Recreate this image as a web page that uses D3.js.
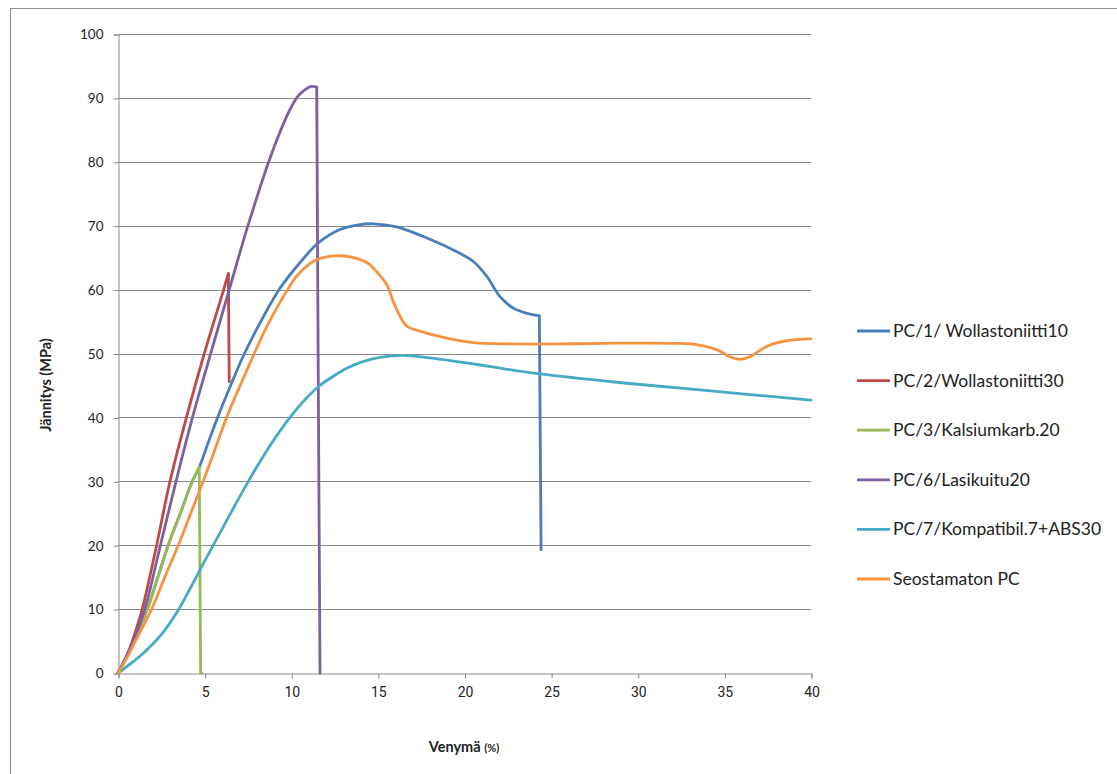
<!DOCTYPE html>
<html>
<head>
<meta charset="utf-8">
<script src="https://cdn.jsdelivr.net/npm/d3@7"></script>
<style>
  html, body { margin: 0; padding: 0; background: #fff; }
  svg { display: block; }
  text { font-family: Lato, "Liberation Sans", sans-serif; fill: #222; }
</style>
</head>
<body>
<svg id="chart" width="1117" height="774"></svg>
<script>
// Tensile test curves: strain (%) vs stress (MPa)
const seriesNames = [
  "PC/1/ Wollastoniitti10",
  "PC/2/Wollastoniitti30",
  "PC/3/Kalsiumkarb.20",
  "PC/6/Lasikuitu20",
  "PC/7/Kompatibil.7+ABS30",
  "Seostamaton PC"
];
const seriesColors = ["#4A7EBB", "#BE4B48", "#98B954", "#7D60A0", "#46AAC5", "#F69240"];

// Each specimen: smooth loading part [strain %, stress MPa] and the fracture drop after it
const pc1 = [[0,0],[0.5,2.6],[1.0,5.6],[1.69,10],[2.3,15],[2.9,20],[3.6,25],[4.29,30],[4.69,32.2],
  [5.2,36],[5.75,40],[6.5,45],[7.3,50],[8.4,55.8],[9.35,60.2],[10.5,64.2],[11.56,67.3],
  [12.81,69.4],[13.8,70.1],[14.74,70.3],[16.09,69.8],[17.62,68.3],[19.35,66.2],[20.51,64.4],[21.28,62.1],
  [22.05,58.9],[22.82,57.1],[23.59,56.3],[24.32,55.9]];
const pc1Drop = [[24.32,55.9],[24.42,19.3]];

const pc2 = [[0,0],[0.5,2.6],[0.95,6],[1.4,10],[2.23,20],[3.0,30],[3.95,40],[4.98,50],
  [6.1,60],[6.37,62.5]];
const pc2Drop = [[6.37,62.5],[6.42,45.6]];

const pc3 = [[0,0],[0.5,2.6],[1.0,5.6],[1.69,10],[2.3,15],[2.9,20],[3.6,25],[4.29,30],[4.69,32.2]];
const pc3Drop = [[4.69,32.2],[4.77,0],[4.85,0]];

const pc6 = [[0,0],[0.5,2.7],[1.0,5.8],[1.55,10],[2.45,20],[3.35,30],[4.3,40],[5.35,50],
  [6.42,60],[7.5,70],[8.7,80],[9.4,85],[9.95,88.3],[10.4,90.3],[10.8,91.3],[11.15,91.8],[11.47,91.7]];
const pc6Drop = [[11.47,91.7],[11.53,60],[11.66,0]];

const pc7 = [[0,0],[0.6,1.2],[1.46,3.1],[2.5,6.0],[3.4,9.5],[4.2,13.4],[5.0,17.5],[5.8,21.5],
  [6.6,25.5],[7.4,29.4],[8.2,33.1],[9.0,36.5],[9.93,40],[10.8,42.8],[11.56,44.8],[12.4,46.4],
  [13.2,47.7],[14.1,48.7],[15.12,49.4],[16.47,49.7],[18.0,49.3],[20.9,48.2],[22.05,47.7],
  [24.36,46.8],[28.78,45.5],[33.6,44.3],[40,42.7]];
const pc7Drop = [];

const pcPlain = [[0,0],[0.5,2.3],[1.0,5],[1.94,10],[2.7,15],[3.48,20],[4.2,25],[4.92,30],[5.6,35],
  [6.27,40],[7.05,45],[7.8,49.6],[8.55,54],[9.35,58],[10.31,62.1],[11.0,63.9],[11.47,64.7],
  [12.2,65.2],[12.81,65.3],[13.78,64.9],[14.5,64.0],[14.93,62.8],[15.51,60.8],[16.0,57.4],
  [16.66,54.3],[17.43,53.5],[18.97,52.4],[20.51,51.7],[22.82,51.5],[25.5,51.5],[28.2,51.6],
  [32.05,51.6],[33.4,51.4],[34.56,50.6],[35.32,49.5],[35.9,49.1],[36.48,49.5],[37.44,51.1],
  [38.6,52.0],[40,52.3]];
const pcPlainDrop = [];

const seriesData = [pc1, pc2, pc3, pc6, pc7, pcPlain];
const seriesDrops = [pc1Drop, pc2Drop, pc3Drop, pc6Drop, pc7Drop, pcPlainDrop];

const xTicks = [0, 5, 10, 15, 20, 25, 30, 35, 40];
const yTicks = [0, 10, 20, 30, 40, 50, 60, 70, 80, 90, 100];

const svg = d3.select("#chart");

// outer chart frame
svg.append("rect")
  .attr("x", 10.5).attr("y", 8.5).attr("width", 1200).attr("height", 900)
  .attr("fill", "none").attr("stroke", "#8c8c8c").attr("stroke-width", 1);

const plot = { left: 118, right: 811, top: 34, bottom: 673 };
const x = d3.scaleLinear().domain([0, 40]).range([plot.left, plot.right]);
const y = d3.scaleLinear().domain([0, 100]).range([plot.bottom, plot.top]);

// horizontal gridlines
svg.append("g").selectAll("line").data(yTicks.filter(d => d > 0)).join("line")
  .attr("x1", plot.left).attr("x2", plot.right)
  .attr("y1", d => Math.round(y(d)) + 0.5).attr("y2", d => Math.round(y(d)) + 0.5)
  .attr("stroke", "#8a8a8a").attr("stroke-width", 1);

// y axis
const yAxis = svg.append("g")
  .attr("transform", `translate(${plot.left + 0.5},0.5)`)
  .call(d3.axisLeft(y).tickValues(yTicks).tickSize(5).tickPadding(10));
yAxis.select(".domain").attr("stroke", "#8a8a8a");
yAxis.selectAll(".tick line").attr("stroke", "#8a8a8a");
yAxis.selectAll(".tick text").style("font-family", "Lato, sans-serif").style("font-size", "13.5px").attr("fill", "#222");

// x axis
const xAxis = svg.append("g")
  .attr("transform", `translate(0.5,${plot.bottom + 0.5})`)
  .call(d3.axisBottom(x).tickValues(xTicks).tickSize(5).tickPadding(9));
xAxis.select(".domain").attr("stroke", "#8a8a8a");
xAxis.selectAll(".tick line").attr("stroke", "#8a8a8a");
xAxis.selectAll(".tick text").style("font-family", "'Liberation Sans Narrow', 'Roboto', sans-serif").style("font-size", "14px").attr("fill", "#222");

// curves: smooth loading part, then straight fracture drop
const smooth = d3.line().x(d => x(d[0])).y(d => y(d[1])).curve(d3.curveCatmullRom.alpha(0.5));
const straight = d3.line().x(d => x(d[0])).y(d => y(d[1])).curve(d3.curveLinear);
seriesData.forEach((data, i) => {
  const g = svg.append("g")
    .attr("fill", "none")
    .attr("stroke", seriesColors[i])
    .attr("stroke-width", 2.8)
    .attr("stroke-linejoin", "round")
    .attr("stroke-linecap", "round");
  g.append("path").attr("d", smooth(data));
  if (seriesDrops[i].length) g.append("path").attr("d", straight(seriesDrops[i]));
});

// axis titles
svg.append("text")
  .attr("transform", "translate(51,385) rotate(-90)")
  .attr("text-anchor", "middle")
  .style("font-size", "14.5px").style("font-weight", "bold")
  .text("Jännitys (MPa)");

const xt = svg.append("text")
  .attr("x", 464).attr("y", 752)
  .attr("text-anchor", "middle")
  .style("font-size", "14.5px").style("font-weight", "bold");
xt.append("tspan").text("Venymä ");
xt.append("tspan").style("font-size", "11px").text("(%)");

// legend
const legend = svg.append("g");
seriesNames.forEach((name, i) => {
  const ly = 331 + i * 49.6;
  legend.append("line")
    .attr("x1", 857).attr("x2", 890).attr("y1", ly).attr("y2", ly)
    .attr("stroke", seriesColors[i]).attr("stroke-width", 2.8);
  legend.append("text")
    .attr("x", 893).attr("y", ly + 6)
    .style("font-size", "17.5px")
    .text(name);
});
</script>
</body>
</html>
